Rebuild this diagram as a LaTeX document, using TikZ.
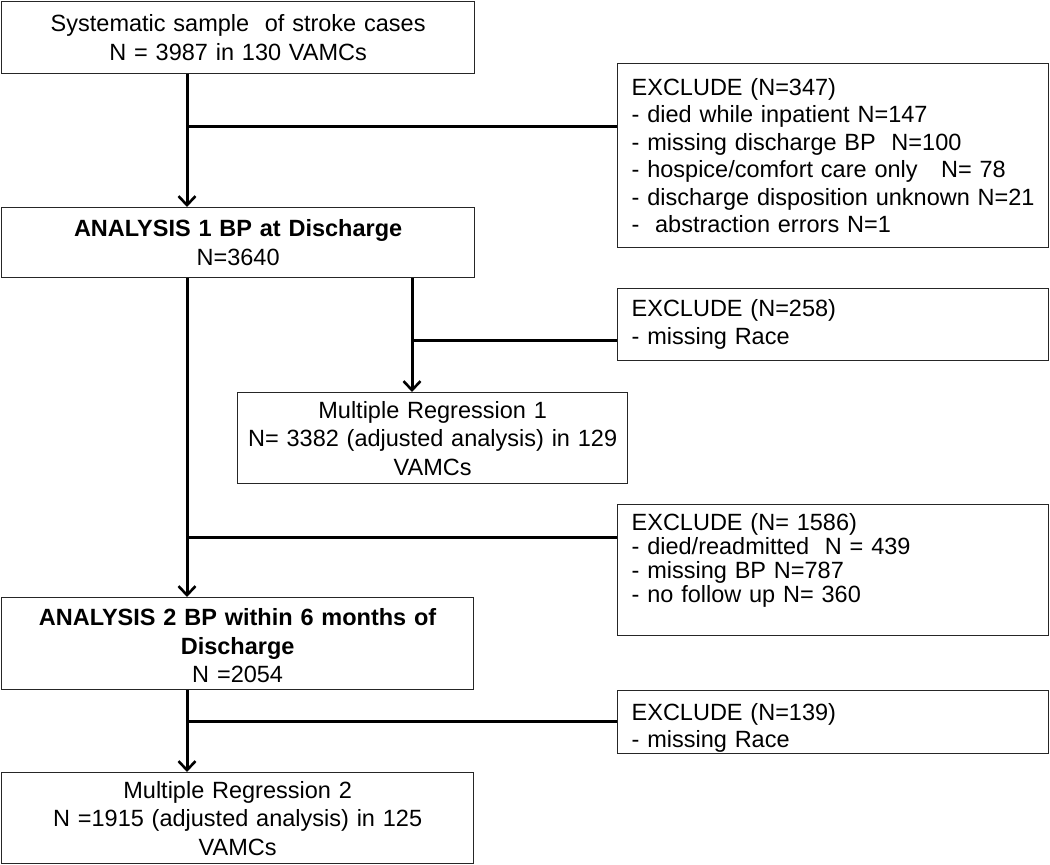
\documentclass[tikz,border=0pt]{standalone}
\usepackage{fontspec}
\setmainfont{Liberation Sans}
\usetikzlibrary{arrows.meta,positioning,calc}

\tikzset{
  box/.style={draw=black!85, line width=1.3pt, anchor=north west, inner sep=0pt,
    align=center, font=\fontsize{23.5}{28.5}\selectfont},
  exbox/.style={box, align=left, inner xsep=14pt, font=\fontsize{23.5}{27.5}\selectfont},
  flow/.style={line width=3pt, -{Straight Barb[length=9pt,width=17pt,line width=2.6pt]}},
  branch/.style={line width=3pt}
}

\begin{document}
\begin{tikzpicture}[x=1pt,y=-1pt]
  \useasboundingbox (0,0) rectangle (1050,865);

  % main column
  \node[box, text width=473pt, minimum height=72pt] (sample) at (1,1)
    {Systematic sample\ \ of stroke cases\\ N = 3987 in 130 VAMCs};
  \node[box, text width=473pt, minimum height=70pt] (anaone) at (1,207)
    {\textbf{ANALYSIS 1 BP at Discharge}\\ N=3640};
  \node[box, text width=390pt, minimum height=91pt] (regone) at (237,392)
    {Multiple Regression 1\\ N= 3382 (adjusted analysis) in 129\\ VAMCs};
  \node[box, text width=472pt, minimum height=92pt, text height=21pt] (anatwo) at (1,597)
    {\textbf{ANALYSIS 2 BP within 6 months of}\\ \textbf{Discharge}\\ N =2054};
  \node[box, text width=472pt, minimum height=91pt] (regtwo) at (1,772)
    {Multiple Regression 2\\ N =1915 (adjusted analysis) in 125\\ VAMCs};
  %
  % exclusions
  \node[exbox, text width=403pt, minimum height=184pt] (exone) at (617,63)
    {EXCLUDE (N=347)\\
     - died while inpatient N=147\\
     - missing discharge BP\ \ N=100\\
     - hospice/comfort care only\ \ \ N= 78\\
     - discharge disposition unknown N=21\\
     -\ \ abstraction errors N=1};
  \node[exbox, text width=403pt, minimum height=72pt] (extwo) at (617,288)
    {EXCLUDE (N=258)\\ - missing Race};
  \node[exbox, text width=403pt, minimum height=131pt, text depth=97pt,
    font=\fontsize{23.5}{24}\selectfont] (exthree) at (617,504)
    {EXCLUDE (N= 1586)\\
     - died/readmitted\ \ N = 439\\
     - missing BP N=787\\
     - no follow up N= 360};
  \node[exbox, text width=403pt, minimum height=63pt, text height=29pt] (exfour) at (617,690)
    {EXCLUDE (N=139)\\ - missing Race};

  % junctions
  \coordinate (jone) at (187,126);
  \coordinate (jtwo) at (412,340);
  \coordinate (jthree) at (187,537);
  \coordinate (jfour) at (187,721);

  \draw[flow] (sample.south -| jone) -- (anaone.north -| jone);
  \draw[branch] (jone) -- (jone -| exone.west);
  \draw[flow] (anaone.south -| jtwo) -- (regone.north -| jtwo);
  \draw[branch] (jtwo) -- (jtwo -| extwo.west);
  \draw[flow] (anaone.south -| jthree) -- (anatwo.north -| jthree);
  \draw[branch] (jthree) -- (jthree -| exthree.west);
  \draw[flow] (anatwo.south -| jfour) -- (regtwo.north -| jfour);
  \draw[branch] (jfour) -- (jfour -| exfour.west);

\end{tikzpicture}
\end{document}
